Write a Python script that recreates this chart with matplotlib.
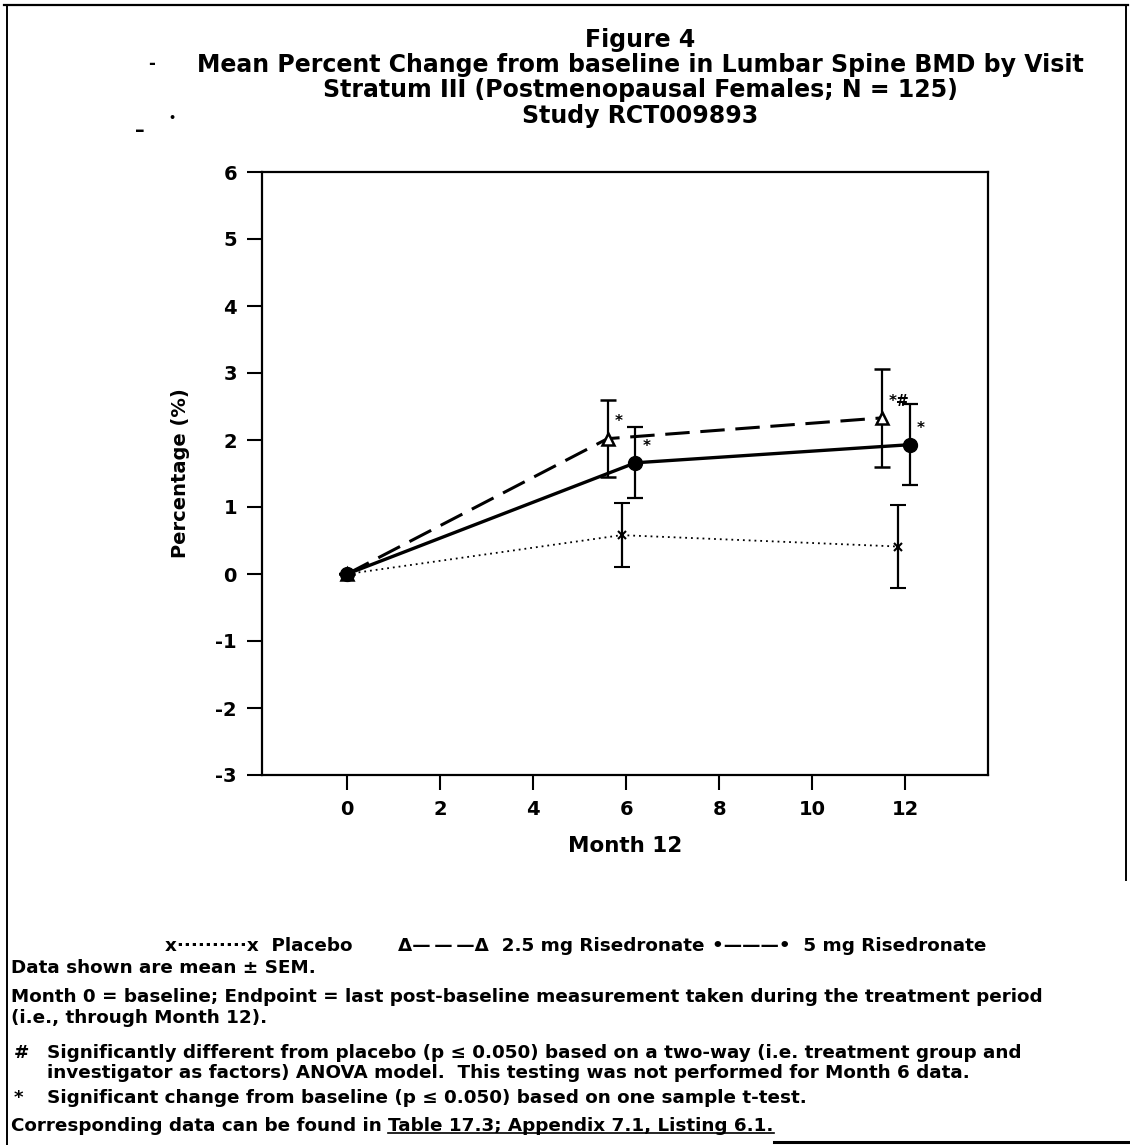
import numpy as np
import matplotlib.pyplot as plt
from matplotlib.lines import Line2D

plt.rcParams['font.family'] = ['DejaVu Sans']
plt.rcParams['font.weight'] = 'bold'
plt.rcParams['axes.unicode_minus'] = False

W, H = 1130, 1145

# values (mean and SEM, % change)
placebo_x = [0, 5.9, 11.85]
placebo_mean = [0.0, 0.58, 0.41]
placebo_sem = [0.0, 0.48, 0.62]

r25_x = [0, 5.6, 11.5]
r25_mean = [0.0, 2.02, 2.33]
r25_sem = [0.0, 0.57, 0.73]
r25_flags = ['', '*', '*#']

r5_x = [0, 6.2, 12.1]
r5_mean = [0.0, 1.66, 1.93]
r5_sem = [0.0, 0.53, 0.60]
r5_flags = ['', '*', '*']

xticks = [0, 2, 4, 6, 8, 10, 12]
yticks = [-3, -2, -1, 0, 1, 2, 3, 4, 5, 6]

title_lines = ['Figure 4',
               'Mean Percent Change from baseline in Lumbar Spine BMD by Visit',
               'Stratum III (Postmenopausal Females; N = 125)',
               'Study RCT009893']
legend_keys = ['x··········x', 'Δ—\u2009—\u2009—Δ', '•———•']
legend_names = ['Placebo', '2.5 mg Risedronate', '5 mg Risedronate']


def fx(x):
    return x / W


def fy(y):
    return 1 - y / H


fig = plt.figure(figsize=(W / 100, H / 100), dpi=100)

# page frame
fig.add_artist(Line2D([fx(4), fx(1128)], [fy(5), fy(5)], transform=fig.transFigure, color='k', lw=1.6))
fig.add_artist(Line2D([fx(7), fx(7)], [fy(5), fy(1145)], transform=fig.transFigure, color='k', lw=1.4))
fig.add_artist(Line2D([fx(1126), fx(1126)], [fy(5), fy(880)], transform=fig.transFigure, color='k', lw=1.4))

# title
title_y = [40, 65, 90, 116]
for t, y in zip(title_lines, title_y):
    fig.text(fx(640), fy(y), t, ha='center', va='center', fontsize=17, fontweight='bold')
# scan specks next to the title
fig.text(fx(152), fy(64), '-', ha='center', va='center', fontsize=12)
fig.text(fx(140), fy(130), '–', ha='center', va='center', fontsize=14)
fig.text(fx(172), fy(118), '•', ha='center', va='center', fontsize=8)

ax = fig.add_axes([fx(262), fy(775), (988 - 262) / W, (775 - 172) / H])

ax.errorbar(placebo_x, placebo_mean, yerr=placebo_sem, color='k', ls=(0, (1, 2.2)), lw=1.3,
            marker='x', ms=6, mew=1.5, capsize=6, elinewidth=1.6, capthick=1.6, zorder=3)
ax.errorbar(r25_x, r25_mean, yerr=r25_sem, color='k', ls=(0, (8, 3.5)), lw=2.2,
            marker='^', ms=8, mfc='white', mec='k', mew=1.8, capsize=6,
            elinewidth=1.6, capthick=1.6, zorder=4)
ax.errorbar(r5_x, r5_mean, yerr=r5_sem, color='k', ls='-', lw=2.4,
            marker='o', ms=10, mfc='k', capsize=6, elinewidth=1.6, capthick=1.6, zorder=5)

for xs, ys, fl in [(r25_x, r25_mean, r25_flags), (r5_x, r5_mean, r5_flags)]:
    for x, y, f in zip(xs, ys, fl):
        if f:
            ax.annotate(f, (x, y), xytext=(5, 12), textcoords='offset points',
                        ha='left', va='center', fontsize=11, fontweight='bold')

ax.set_xlim(-1.83, 13.78)
ax.set_ylim(-3, 6)
ax.set_xticks(xticks)
ax.set_yticks(yticks)
ax.tick_params(direction='out', length=11, width=1.5, labelsize=14, pad=7)
for s in ax.spines.values():
    s.set_linewidth(1.6)

fig.text(fx(180), fy(473), 'Percentage (%)', rotation=90, ha='center', va='center',
         fontsize=14, fontweight='bold')
fig.text(fx(625), fy(846), 'Month 12', ha='center', va='center', fontsize=15.5, fontweight='bold')

fs = 13.2

# legend drawn as text, as on the original page
fig.canvas.draw()
r = fig.canvas.get_renderer()
leg_y = fy(946)
lx = 165
gaps = [45, 8, 0]
for key, name, gap in zip(legend_keys, legend_names, gaps):
    t = fig.text(fx(lx), leg_y, key + '  ' + name, ha='left', va='center', fontsize=fs)
    lx = t.get_window_extent(r).x1 + gap

fig.text(fx(11), fy(968), 'Data shown are mean ± SEM.', ha='left', va='center', fontsize=fs)
fig.text(fx(11), fy(997), 'Month 0 = baseline; Endpoint = last post-baseline measurement taken during the treatment period',
         ha='left', va='center', fontsize=fs)
fig.text(fx(11), fy(1018), '(i.e., through Month 12).', ha='left', va='center', fontsize=fs)
fig.text(fx(14), fy(1053), '#', ha='left', va='center', fontsize=fs)
fig.text(fx(47), fy(1053), 'Significantly different from placebo (p ≤ 0.050) based on a two-way (i.e. treatment group and',
         ha='left', va='center', fontsize=fs)
fig.text(fx(47), fy(1073), 'investigator as factors) ANOVA model.  This testing was not performed for Month 6 data.',
         ha='left', va='center', fontsize=fs)
fig.text(fx(14), fy(1098), '*', ha='left', va='center', fontsize=fs)
fig.text(fx(47), fy(1098), 'Significant change from baseline (p ≤ 0.050) based on one sample t-test.',
         ha='left', va='center', fontsize=fs)
t1 = fig.text(fx(11), fy(1126), 'Corresponding data can be found in ', ha='left', va='center', fontsize=fs)

b1 = t1.get_window_extent(r)
t2 = fig.text(b1.x1 / W, fy(1126), 'Table 17.3; Appendix 7.1, Listing 6.1.', ha='left', va='center', fontsize=fs)
b2 = t2.get_window_extent(r)
ul = (b2.y0 + 2) / H
fig.add_artist(Line2D([b2.x0 / W, b2.x1 / W], [ul, ul], transform=fig.transFigure, color='k', lw=1.2))
fig.add_artist(Line2D([b2.x1 / W, fx(1128)], [fy(1142), fy(1142)], transform=fig.transFigure, color='k', lw=2.2))

fig.savefig('out.png', dpi=100)
